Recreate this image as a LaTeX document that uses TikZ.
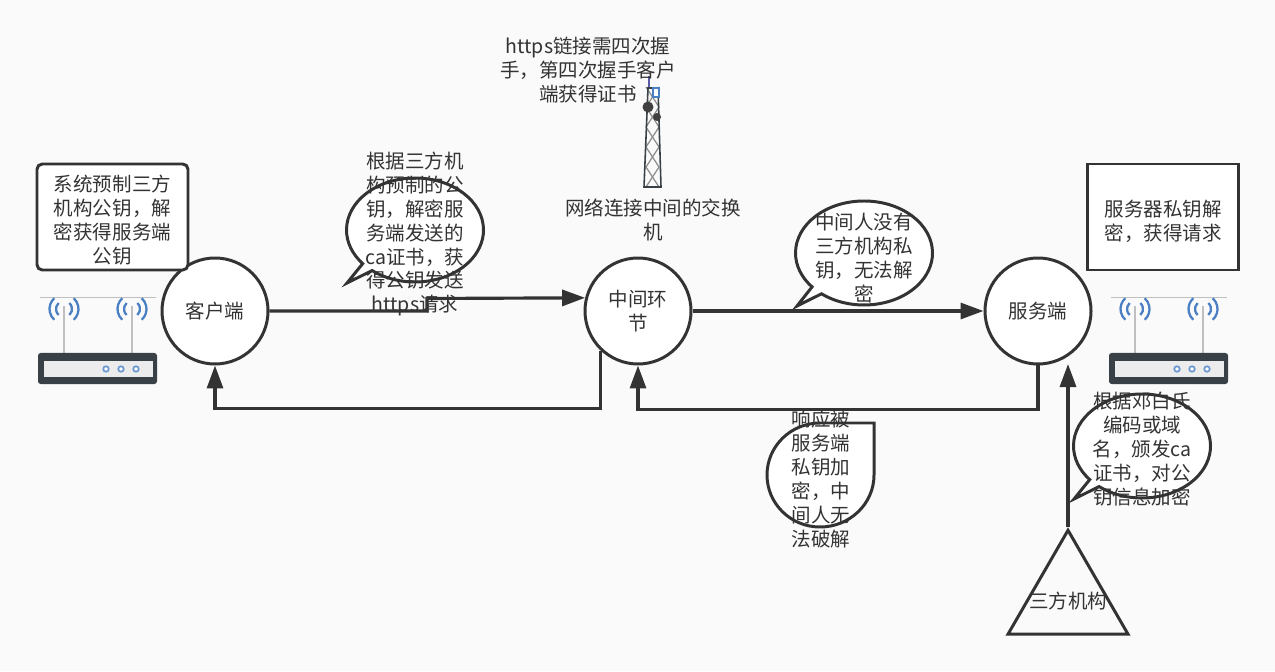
\documentclass[tikz,border=0pt]{standalone}
\usepackage{fontspec}
\setmainfont{Noto Sans CJK SC}
\usetikzlibrary{arrows.meta,shapes.geometric,shapes.callouts}

\definecolor{ink}{HTML}{333333}
\definecolor{paper}{HTML}{FAFAFA}
\definecolor{wifiblue}{HTML}{4A7FC4}
\definecolor{steel}{HTML}{3A4146}

\tikzset{
  txt/.style={align=center,inner sep=0pt,text=ink,font=\fontsize{11.1}{13.65}\selectfont},
  station/.style={circle,draw=ink,line width=1.7pt,fill=white,minimum size=2.12cm,inner sep=0pt,txt},
  notebox/.style={draw=ink,line width=1.7pt,fill=white,minimum width=3.02cm,minimum height=2.12cm,inner sep=0pt},
  bubble/.style={ellipse callout,callout pointer arc=11,draw=ink,line width=1.7pt,fill=white,minimum width=2.74cm,minimum height=2.08cm,inner sep=0pt},
  link/.style={draw=ink,line width=1.8pt,-{Triangle[length=0.46cm,width=0.32cm]}},
  router/.pic={
    \draw[gray!50,line width=0.5pt] (0,0) -- (2.32,0);
    \foreach \x in {0.48,1.84} {
      \draw[gray!50,line width=1.6pt] (\x,-0.18) -- (\x,-1.12);
      \foreach \r in {0.16,0.29} {
        \draw[wifiblue,line width=1.3pt] (\x,-0.24) ++(-48:\r) arc[start angle=-48,end angle=48,radius=\r];
        \draw[wifiblue,line width=1.3pt] (\x,-0.24) ++(132:\r) arc[start angle=132,end angle=228,radius=\r];
      }
    }
    \fill[steel,rounded corners=1.5pt] (-0.04,-1.12) rectangle (2.34,-1.74);
    \fill[gray!15] (0.08,-1.28) rectangle (2.26,-1.60);
    \foreach \x in {1.32,1.62,1.92} {
      \draw[wifiblue!80,fill=white,line width=1pt] (\x,-1.44) circle[radius=0.055];
    }
  }
}

\begin{document}
\begin{tikzpicture}
  \useasboundingbox (0,0) rectangle (25.5,13.42);
  \fill[paper] (0,0) rectangle (25.5,13.42);

  % routers
  \pic at (0.80,7.48) {router};
  \pic at (22.22,7.48) {router};

  % tower
  \draw[gray!70!blue,line width=0.8pt] (12.98,11.90) -- (12.98,11.66);
  \foreach \y in {9.68,10.08,10.48,10.88,11.28} {
    \draw[gray!90,line width=0.7pt] (12.92,\y) -- (13.18,\y+0.40);
    \draw[gray!90,line width=0.7pt] (13.18,\y) -- (12.92,\y+0.40);
  }
  \draw[steel,line width=0.9pt] (12.88,9.68) -- (12.96,11.66) -- (13.16,11.66) -- (13.22,9.68) -- cycle;
  \draw[wifiblue,line width=0.6pt,fill=white] (13.06,11.48) rectangle (13.18,11.66);
  \fill[gray!50!black] (12.96,11.28) circle[radius=0.11];
  \fill[gray!50!black] (13.14,11.08) circle[radius=0.08];

  % stations
  \node[station] (client) at (4.30,7.20) {客户端};
  \node[station] (middle) at (12.76,7.20) {中间环\\节};
  \node[station] (server) at (20.76,7.20) {服务端};
  \node[regular polygon,regular polygon sides=3,draw=ink,line width=1.7pt,minimum size=2.77cm,inner sep=0pt,
    label={[txt,yshift=-0.03cm]center:三方机构}] (authority) at (21.36,1.43) {};

  % notes
  \node[notebox,rounded corners=3pt] (clientnote) at (2.25,9.08) {};
  \node[txt] (clienttext) at (2.25,9.02) {系统预制三方\\机构公钥^^^^ff0c解\\密获得服务端\\公钥};
  \node[notebox] (servernote) at (23.25,9.08) {};
  \node[txt] (servertext) at (23.26,9.00) {服务器私钥解\\密^^^^ff0c获得请求};

  % bubbles
  \node[bubble,callout absolute pointer={(6.94,7.76)}] (cabubble) at (8.30,8.82) {};
  \node[bubble,callout absolute pointer={(15.94,7.30)}] (midbubble) at (17.28,8.36) {};
  \node[bubble,callout absolute pointer={(21.48,3.44)}] (authbubble) at (22.84,4.50) {};
  \draw[ink,line width=1.7pt,fill=white] (17.48,4.96) -- (16.40,4.96)
    arc[start angle=90,end angle=270,x radius=1.06,y radius=1.04]
    arc[start angle=-90,end angle=0,x radius=1.08,y radius=1.04] -- cycle;

  % texts
  \node[txt] (catext) at (8.30,8.74) {根据三方机\\构预制的公\\钥^^^^ff0c解密服\\务端发送的\\ca证书^^^^ff0c获\\得公钥发送\\https请求};
  \node[txt] (midtext) at (17.28,8.26) {中间人没有\\三方机构私\\钥^^^^ff0c无法解\\密};
  \node[txt] (authtext) at (22.84,4.44) {根据邓白氏\\编码或域\\名^^^^ff0c颁发ca\\证书^^^^ff0c对公\\钥信息加密};
  \node[txt] (resptext) at (16.42,3.83) {响应被\\服务端\\私钥加\\密^^^^ff0c中\\间人无\\法破解};
  \node[txt] (towertop) at (11.76,12.02) {https链接需四次握\\手^^^^ff0c第四次握手客户\\端获得证书};
  \node[txt] (towerlow) at (13.06,9.02) {网络连接中间的交换\\机};

  % connectors
  \coordinate (jog) at (8.54,7.45);
  \coordinate (entry) at (21.36,6.14);
  \draw[link] (client.east) -| (jog) -- (middle.166);
  \draw[link] (middle.east) -- (server.west);
  \draw[link] (middle.-133) -- ++(0,-1.16) -| (client.south);
  \draw[link] (server.south) -- ++(0,-0.88) -| (middle.south);
  \draw[link] (authority.north) -- (entry);
\end{tikzpicture}
\end{document}
